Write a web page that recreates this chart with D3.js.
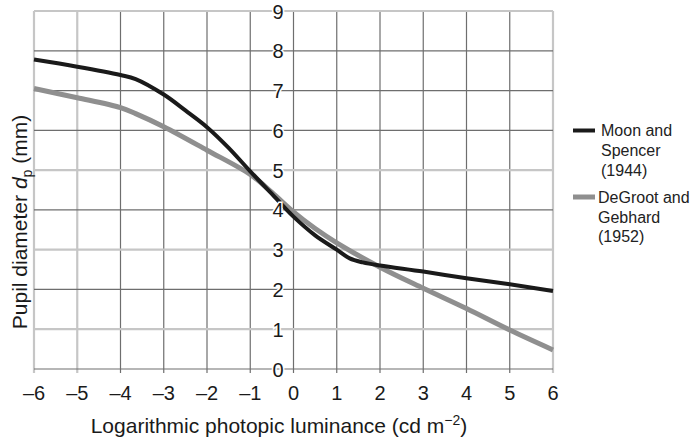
<!DOCTYPE html>
<html><head><meta charset="utf-8">
<script src="https://cdn.jsdelivr.net/npm/d3@7"></script>
<style>
body{margin:0;background:#fff;}
svg{display:block;font-family:"Liberation Sans",Arial,sans-serif;}
</style></head>
<body><svg id="c" width="690" height="440"></svg>
<script>
// ---- data ----
const xTicks = [-6,-5,-4,-3,-2,-1,0,1,2,3,4,5,6];
const yTicks = [0,1,2,3,4,5,6,7,8,9];
const moonX = [-6,-5,-4,-3.65,-3,-2.5,-2,-1.5,-1,-0.5,0,0.5,1,1.3,1.6,2,3,4,5,6];
const moonY = [7.78,7.6,7.39,7.29,6.9,6.5,6.08,5.56,4.97,4.4,3.83,3.36,3.0,2.78,2.68,2.6,2.45,2.28,2.13,1.96];
const degX = [-6,-5,-4,-3.65,-3,-2,-1,-0.5,0,0.5,1,2,3,4,5,6];
const degY = [7.05,6.82,6.57,6.42,6.09,5.5,4.89,4.44,3.95,3.53,3.17,2.56,2.03,1.52,0.98,0.48];
const seriesNames = [["Moon and","Spencer","(1944)"],["DeGroot and","Gebhard","(1952)"]];

// ---- layout ----
const svg = d3.select("#c");
const x = d3.scaleLinear().domain([-6,6]).range([34,553]);
const y = d3.scaleLinear().domain([0,9]).range([369,11]);
const lightX = new Set([-6,-5,6]);
const lightY = new Set([9,5,3,1]);

const g = svg.append("g");
// vertical grid
g.selectAll(".vg").data(xTicks).join("line")
  .attr("x1",d=>x(d)).attr("x2",d=>x(d))
  .attr("y1",y(9)).attr("y2",y(0)+4)
  .attr("stroke",d=>lightX.has(d)?"#c6c6c6":"#6e6e6e")
  .attr("stroke-width",d=>lightX.has(d)?2.2:1.2);
// horizontal grid
g.selectAll(".hg").data(yTicks).join("line")
  .attr("x1",x(-6)).attr("x2",x(6))
  .attr("y1",d=>y(d)).attr("y2",d=>y(d))
  .attr("stroke",d=>lightY.has(d)?"#c6c6c6":"#6e6e6e")
  .attr("stroke-width",d=>lightY.has(d)?2.2:1.2);

// x axis tick labels
g.selectAll(".xt").data(xTicks).join("text")
  .attr("x",d=>x(d)).attr("y",400)
  .attr("text-anchor","middle").attr("font-size",20).attr("fill","#1a1a1a")
  .text(d=>d<0?"\u2013"+Math.abs(d):String(d));

// lines
const line = d3.line().x(d=>x(d[0])).y(d=>y(d[1])).curve(d3.curveCatmullRom.alpha(0.5));
g.append("path").datum(degX.map((v,i)=>[v,degY[i]]))
  .attr("d",line).attr("fill","none").attr("stroke","#8f8f8f").attr("stroke-width",5);
g.append("path").datum(moonX.map((v,i)=>[v,moonY[i]]))
  .attr("d",line).attr("fill","none").attr("stroke","#1a1a1a").attr("stroke-width",4);

// y tick labels (over grid, with white halo)
g.selectAll(".yt").data(yTicks).join("text")
  .attr("x",x(0)-10).attr("y",d=>y(d)).attr("dy","0.38em")
  .attr("text-anchor","end").attr("font-size",20).attr("fill","#1a1a1a")
  .attr("stroke","#fff").attr("stroke-width",3).attr("paint-order","stroke")
  .text(d=>d);

// axis titles
const xt = svg.append("text").attr("x",279).attr("y",433)
  .attr("text-anchor","middle").attr("font-size",21).attr("fill","#1a1a1a");
xt.append("tspan").text("Logarithmic photopic luminance (cd m");
xt.append("tspan").attr("font-size",14).attr("dy",-8).text("\u22122");
xt.append("tspan").attr("dy",8).text(")");

const yt = svg.append("text").attr("transform","translate(27,222) rotate(-90)")
  .attr("text-anchor","middle").attr("font-size",21).attr("fill","#1a1a1a");
yt.append("tspan").text("Pupil diameter ");
yt.append("tspan").attr("font-style","italic").text("d");
yt.append("tspan").attr("font-size",14).attr("dy",5).text("p");
yt.append("tspan").attr("dy",-5).text(" (mm)");

// legend
const legColors = ["#1a1a1a","#8f8f8f"];
const legWidths = [4,5];
const legY = [130.5,197];
seriesNames.forEach((lines,i)=>{
  svg.append("line").attr("x1",573).attr("x2",595).attr("y1",legY[i]).attr("y2",legY[i])
    .attr("stroke",legColors[i]).attr("stroke-width",legWidths[i]);
  const t = svg.append("text").attr("font-size",16).attr("fill","#222");
  lines.forEach((s,j)=>{
    t.append("tspan").attr("x",i===0?601:598).attr("y",legY[i]+j*19.8).attr("dy","0.36em").text(s);
  });
});
</script></body></html>
